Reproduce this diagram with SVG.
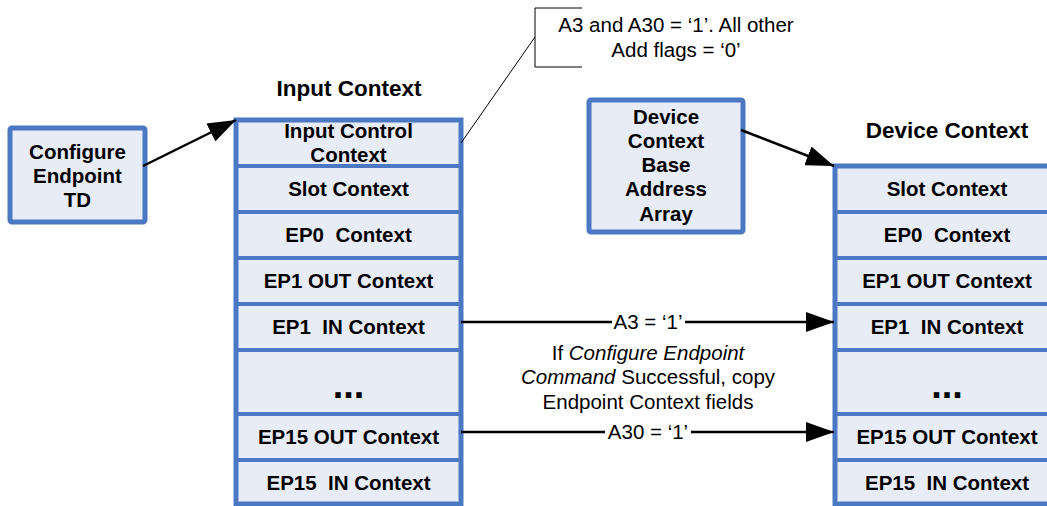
<svg xmlns="http://www.w3.org/2000/svg" width="1047" height="506" viewBox="0 0 1047 506">
<style>
text{white-space:pre}
.cell{fill:#e7ecf7;stroke:#4a78c2;stroke-width:4}
.box{fill:#e7ecf7;stroke:#4a78c2;stroke-width:5}
.b{font-family:"Liberation Sans",Arial,sans-serif;font-weight:bold;font-size:20.5px;fill:#000;text-anchor:middle}
.t{font-family:"Liberation Sans",Arial,sans-serif;font-weight:bold;font-size:22.5px;fill:#000;text-anchor:middle}
.r{font-family:"Liberation Sans",Arial,sans-serif;font-size:20.5px;fill:#000;text-anchor:middle}
.dots{font-family:"Liberation Sans",Arial,sans-serif;font-weight:bold;font-size:38px;fill:#000;text-anchor:middle}
.arr{stroke:#000;stroke-width:2.5;fill:none}
.thin{stroke:#000;stroke-width:1;fill:none}
</style>
<defs>
<marker id="ah" markerUnits="userSpaceOnUse" markerWidth="30" markerHeight="20" refX="28" refY="10" orient="auto">
<path d="M0,0 L28,10 L0,20 Z" fill="#000"/>
</marker>
</defs>

<g id="title-input"><text class="t" x="349" y="96">Input Context</text></g>
<g id="title-device"><text class="t" x="947" y="138">Device Context</text></g>

<g id="configure-td">
<rect class="box" x="10" y="128" width="135" height="94" rx="2"/>
<text class="b" x="77.5" y="159">Configure</text>
<text class="b" x="77.5" y="183">Endpoint</text>
<text class="b" x="77.5" y="207">TD</text>
</g>

<g id="dcbaa">
<rect class="box" x="589" y="100" width="154" height="132" rx="2"/>
<text class="b" x="666" y="124">Device</text>
<text class="b" x="666" y="148">Context</text>
<text class="b" x="666" y="172">Base</text>
<text class="b" x="666" y="196">Address</text>
<text class="b" x="666" y="221">Array</text>
</g>

<g id="input-context">
<rect class="cell" x="236" y="120" width="225" height="46"/>
<rect class="cell" x="236" y="166" width="225" height="46"/>
<rect class="cell" x="236" y="212" width="225" height="46"/>
<rect class="cell" x="236" y="258" width="225" height="46"/>
<rect class="cell" x="236" y="304" width="225" height="46"/>
<rect class="cell" x="236" y="350" width="225" height="64"/>
<rect class="cell" x="236" y="414" width="225" height="46"/>
<rect class="cell" x="236" y="460" width="225" height="44"/>
<rect x="236" y="120" width="225" height="384" fill="none" stroke="#4a78c2" stroke-width="5"/>
<text class="b" x="348.5" y="138">Input Control</text>
<text class="b" x="348.5" y="162">Context</text>
<text class="b" x="348.5" y="196">Slot Context</text>
<text class="b" x="348.5" y="242">EP0  Context</text>
<text class="b" x="348.5" y="288">EP1 OUT Context</text>
<text class="b" x="348.5" y="334">EP1  IN Context</text>
<text class="dots" x="348.5" y="398">...</text>
<text class="b" x="348.5" y="444">EP15 OUT Context</text>
<text class="b" x="348.5" y="490">EP15  IN Context</text>
</g>

<g id="device-context">
<rect class="cell" x="835" y="166" width="225" height="46"/>
<rect class="cell" x="835" y="212" width="225" height="46"/>
<rect class="cell" x="835" y="258" width="225" height="46"/>
<rect class="cell" x="835" y="304" width="225" height="46"/>
<rect class="cell" x="835" y="350" width="225" height="64"/>
<rect class="cell" x="835" y="414" width="225" height="46"/>
<rect class="cell" x="835" y="460" width="225" height="44"/>
<rect x="835" y="166" width="225" height="338" fill="none" stroke="#4a78c2" stroke-width="5"/>
<text class="b" x="947" y="196">Slot Context</text>
<text class="b" x="947" y="242">EP0  Context</text>
<text class="b" x="947" y="288">EP1 OUT Context</text>
<text class="b" x="947" y="334">EP1  IN Context</text>
<text class="dots" x="947" y="398">...</text>
<text class="b" x="947" y="444">EP15 OUT Context</text>
<text class="b" x="947" y="490">EP15  IN Context</text>
</g>

<g id="callout">
<polyline class="thin" points="582,8 535,8 535,67 582,67"/>
<text class="r" x="676" y="32">A3 and A30 = ‘1’. All other</text>
<text class="r" x="676" y="57">Add flags = ‘0’</text>
</g>

<g id="middle-note">
<text class="r" x="648" y="360">If <tspan font-style="italic">Configure Endpoint</tspan></text>
<text class="r" x="648" y="384"><tspan font-style="italic">Command</tspan> Successful, copy</text>
<text class="r" x="648" y="409">Endpoint Context fields</text>
</g>

<g id="connectors">
<line class="thin" x1="535" y1="37" x2="461" y2="143"/>
<line class="arr" x1="143" y1="166" x2="236" y2="120" marker-end="url(#ah)"/>
<line class="arr" x1="741" y1="130" x2="834" y2="166" marker-end="url(#ah)"/>
<line class="arr" x1="461" y1="322" x2="834" y2="322" marker-end="url(#ah)"/>
<rect x="612" y="310" width="73" height="24" fill="#fff"/>
<text class="r" x="648" y="329">A3 = ‘1’</text>
<line class="arr" x1="461" y1="432" x2="834" y2="432" marker-end="url(#ah)"/>
<rect x="605" y="420" width="86" height="24" fill="#fff"/>
<text class="r" x="648" y="439">A30 = ‘1’</text>
</g>
</svg>
